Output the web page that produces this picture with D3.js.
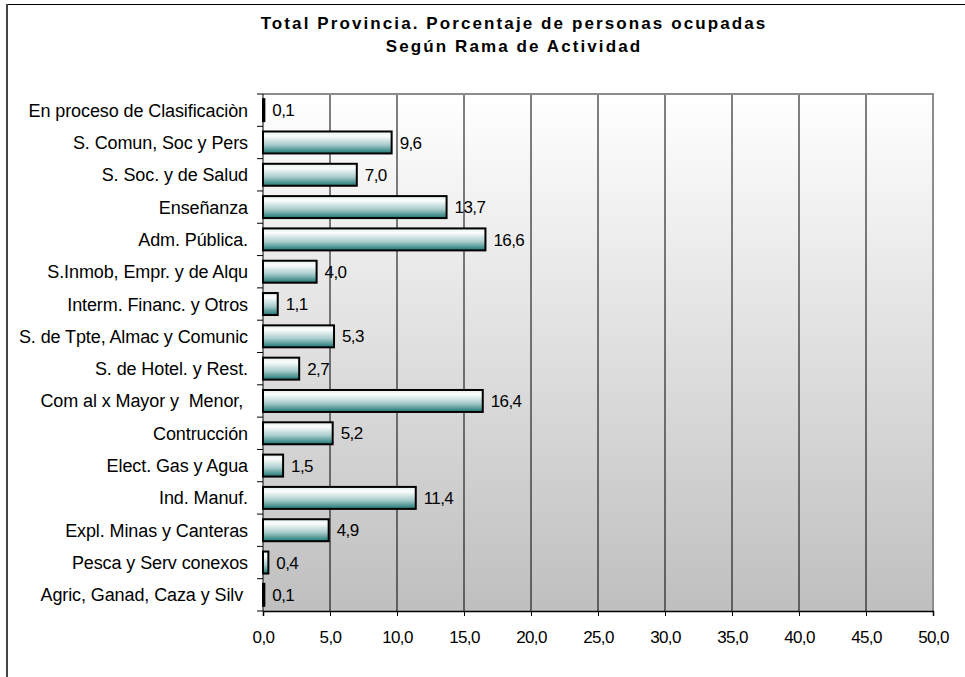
<!DOCTYPE html>
<html>
<head>
<meta charset="utf-8">
<script src="https://cdn.jsdelivr.net/npm/d3@7"></script>
<style>
  body { margin: 0; background: #fff; }
  text { font-family: "Liberation Sans", Arial, sans-serif; fill: #000; white-space: pre; }
</style>
</head>
<body>
<script>
// data, top to bottom as in the chart
var categories = [
  "En proceso de Clasificaciòn",
  "S. Comun, Soc y Pers",
  "S. Soc. y de Salud",
  "Enseñanza",
  "Adm. Pública.",
  "S.Inmob, Empr. y de Alqu",
  "Interm. Financ. y Otros",
  "S. de Tpte, Almac y Comunic",
  "S. de Hotel. y Rest.",
  "Com al x Mayor y  Menor, ",
  "Contrucción",
  "Elect. Gas y Agua",
  "Ind. Manuf.",
  "Expl. Minas y Canteras",
  "Pesca y Serv conexos",
  "Agric, Ganad, Caza y Silv "
];
var values = [0.1, 9.6, 7.0, 13.7, 16.6, 4.0, 1.1, 5.3, 2.7, 16.4, 5.2, 1.5, 11.4, 4.9, 0.4, 0.1];
var xTicks = [0, 5, 10, 15, 20, 25, 30, 35, 40, 45, 50];
var titleLines = ["Total Provincia. Porcentaje de personas ocupadas", "Según Rama de Actividad"];

var W = 965, H = 677;
var margin = {top: 94, right: 32, bottom: 66, left: 263},
    width = W - margin.left - margin.right,
    height = H - margin.top - margin.bottom;

var fmt = function(v) { return d3.format(".1f")(v).replace(".", ","); };

var svg = d3.select("body").append("svg")
  .attr("width", W)
  .attr("height", H);

var defs = svg.append("defs");
var bg = defs.append("linearGradient").attr("id", "bg")
  .attr("x1", 0).attr("y1", 0).attr("x2", 0).attr("y2", 1);
bg.append("stop").attr("offset", "0%").attr("stop-color", "#ffffff");
bg.append("stop").attr("offset", "100%").attr("stop-color", "#bfbfbf");

var barGrad = defs.append("linearGradient").attr("id", "barGrad")
  .attr("x1", 0).attr("y1", 0).attr("x2", 0).attr("y2", 1);
barGrad.append("stop").attr("offset", "0%").attr("stop-color", "#e6eeee");
barGrad.append("stop").attr("offset", "20%").attr("stop-color", "#fbfdfd");
barGrad.append("stop").attr("offset", "60%").attr("stop-color", "#a9cccc");
barGrad.append("stop").attr("offset", "100%").attr("stop-color", "#1a7674");

// outer chart border
svg.append("path")
  .attr("d", "M7," + H + " V4.5 H" + W)
  .attr("fill", "none")
  .attr("stroke", "#000")
  .attr("stroke-width", 1);
svg.append("line")
  .attr("x1", 7).attr("x2", 7).attr("y1", 4).attr("y2", H)
  .attr("stroke", "#444").attr("stroke-width", 2);

// title
svg.append("g").selectAll("text")
  .data(titleLines)
  .enter().append("text")
  .attr("x", 514)
  .attr("y", function(d, i) { return 29 + i * 23; })
  .attr("text-anchor", "middle")
  .attr("font-size", "17px")
  .attr("font-weight", "bold")
  .attr("letter-spacing", "2.1px")
  .text(function(d) { return d; });

var g = svg.append("g")
  .attr("transform", "translate(" + margin.left + "," + margin.top + ")");

var x = d3.scaleLinear().domain([0, 50]).range([0, width]);
var y = d3.scaleBand().domain(categories).range([0, height]).paddingInner(0.32).paddingOuter(0.16);

// plot background
g.append("rect")
  .attr("width", width).attr("height", height)
  .attr("fill", "url(#bg)");

// gridlines
g.append("g").selectAll("line")
  .data(xTicks.slice(1, -1))
  .enter().append("line")
  .attr("x1", function(d) { return x(d); })
  .attr("x2", function(d) { return x(d); })
  .attr("y1", 0).attr("y2", height)
  .attr("stroke", "#000").attr("stroke-width", 1);

// plot border (top and right)
g.append("path")
  .attr("d", "M0,0 H" + width + " V" + height)
  .attr("fill", "none")
  .attr("stroke", "#8c8c8c")
  .attr("stroke-width", 2);

// bars
g.selectAll(".bar")
  .data(values)
  .enter().append("rect")
  .attr("class", "bar")
  .attr("x", 0)
  .attr("y", function(d, i) { return y(categories[i]); })
  .attr("width", function(d) { return x(d); })
  .attr("height", y.bandwidth())
  .attr("fill", "url(#barGrad)")
  .attr("stroke", "#000")
  .attr("stroke-width", 2);

// value labels
g.selectAll(".val")
  .data(values)
  .enter().append("text")
  .attr("class", "val")
  .attr("x", function(d) { return x(d) + 8; })
  .attr("y", function(d, i) { return y(categories[i]) + y.bandwidth() / 2; })
  .attr("dy", "0.36em")
  .attr("font-size", "17px")
  .attr("letter-spacing", "-0.6px")
  .text(function(d) { return fmt(d); });

// y axis: ticks between categories
var yAxis = g.append("g");
yAxis.append("line")
  .attr("x1", 0).attr("x2", 0).attr("y1", 0).attr("y2", height)
  .attr("stroke", "#000").attr("stroke-width", 1);
yAxis.selectAll(".ytick")
  .data(d3.range(categories.length + 1))
  .enter().append("line")
  .attr("class", "ytick")
  .attr("x1", -6).attr("x2", 0)
  .attr("y1", function(i) { return i * height / categories.length; })
  .attr("y2", function(i) { return i * height / categories.length; })
  .attr("stroke", "#000");
yAxis.selectAll(".ylab")
  .data(categories)
  .enter().append("text")
  .attr("class", "ylab")
  .attr("x", -15)
  .attr("y", function(d) { return y(d) + y.bandwidth() / 2; })
  .attr("dy", "0.36em")
  .attr("text-anchor", "end")
  .attr("font-size", "18px")
  .attr("letter-spacing", "-0.1px")
  .text(function(d) { return d; });

// x axis
var xAxis = g.append("g")
  .attr("transform", "translate(0," + height + ")")
  .call(d3.axisBottom(x).tickValues(xTicks).tickSize(5).tickPadding(15).tickFormat(fmt));
xAxis.select(".domain").attr("stroke", "#000").attr("stroke-width", 1.5);
xAxis.selectAll("text")
  .attr("font-size", "17px")
  .attr("letter-spacing", "-0.6px")
  .attr("font-family", "Liberation Sans, Arial, sans-serif");
</script>
</body>
</html>
